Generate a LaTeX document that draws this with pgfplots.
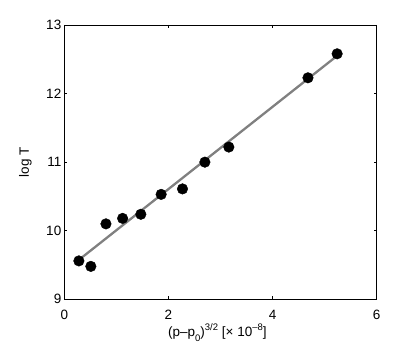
\documentclass[border=0pt]{standalone}
\usepackage{pgfplots}
\pgfplotsset{compat=1.18}
\usepackage{fontspec}
\setmainfont{Liberation Sans}
\definecolor{fitgray}{RGB}{128,128,128}
\newcommand{\sups}[1]{\raisebox{0.5em}{\fontsize{9.5}{10}\selectfont #1}}
\newcommand{\subs}[1]{\raisebox{-0.3em}{\fontsize{9.5}{10}\selectfont #1}}
\begin{document}
\begin{tikzpicture}
\useasboundingbox (-64.3pt,-48.7pt) rectangle (350.7pt,299.3pt);
\begin{axis}[
  at={(0pt,0pt)}, anchor=south west,
  scale only axis, width=312.4pt, height=274.3pt,
  xmin=0, xmax=6, ymin=9, ymax=13,
  xtick={0,2,4,6}, ytick={9,10,11,12,13},
  tick align=inside, major tick length=3pt,
  tick style={black, line width=0.5pt},
  axis line style={line width=0.6pt},
  /pgf/number format/assume math mode=true,
  ticklabel style={font=\fontsize{13.5}{15}\selectfont},
  xticklabel style={yshift=-7pt},
  yticklabel style={xshift=0.5pt},
  label style={font=\fontsize{13.5}{15}\selectfont},
  xlabel={(p\textendash p\subs{0})\sups{3/2} [\texttimes{} 10\sups{\textendash 8}]},
  ylabel={log T},
  xlabel style={at={(axis description cs:0.49,-0.1374)}, anchor=base},
  ylabel style={at={(axis description cs:-0.113,0.5)}, anchor=base},
]
\addplot[fitgray, line width=2.3pt, no marks] coordinates {(0.33,9.605) (5.23,12.545)};
\addplot[only marks, mark=*, mark size=5.3pt, black] coordinates {
(0.28,9.56) (0.51,9.48) (0.80,10.10) (1.12,10.18) (1.47,10.24) (1.86,10.53)
(2.27,10.61) (2.70,11.00) (3.16,11.22) (4.68,12.23) (5.24,12.58)};
\end{axis}
\end{tikzpicture}
\end{document}
